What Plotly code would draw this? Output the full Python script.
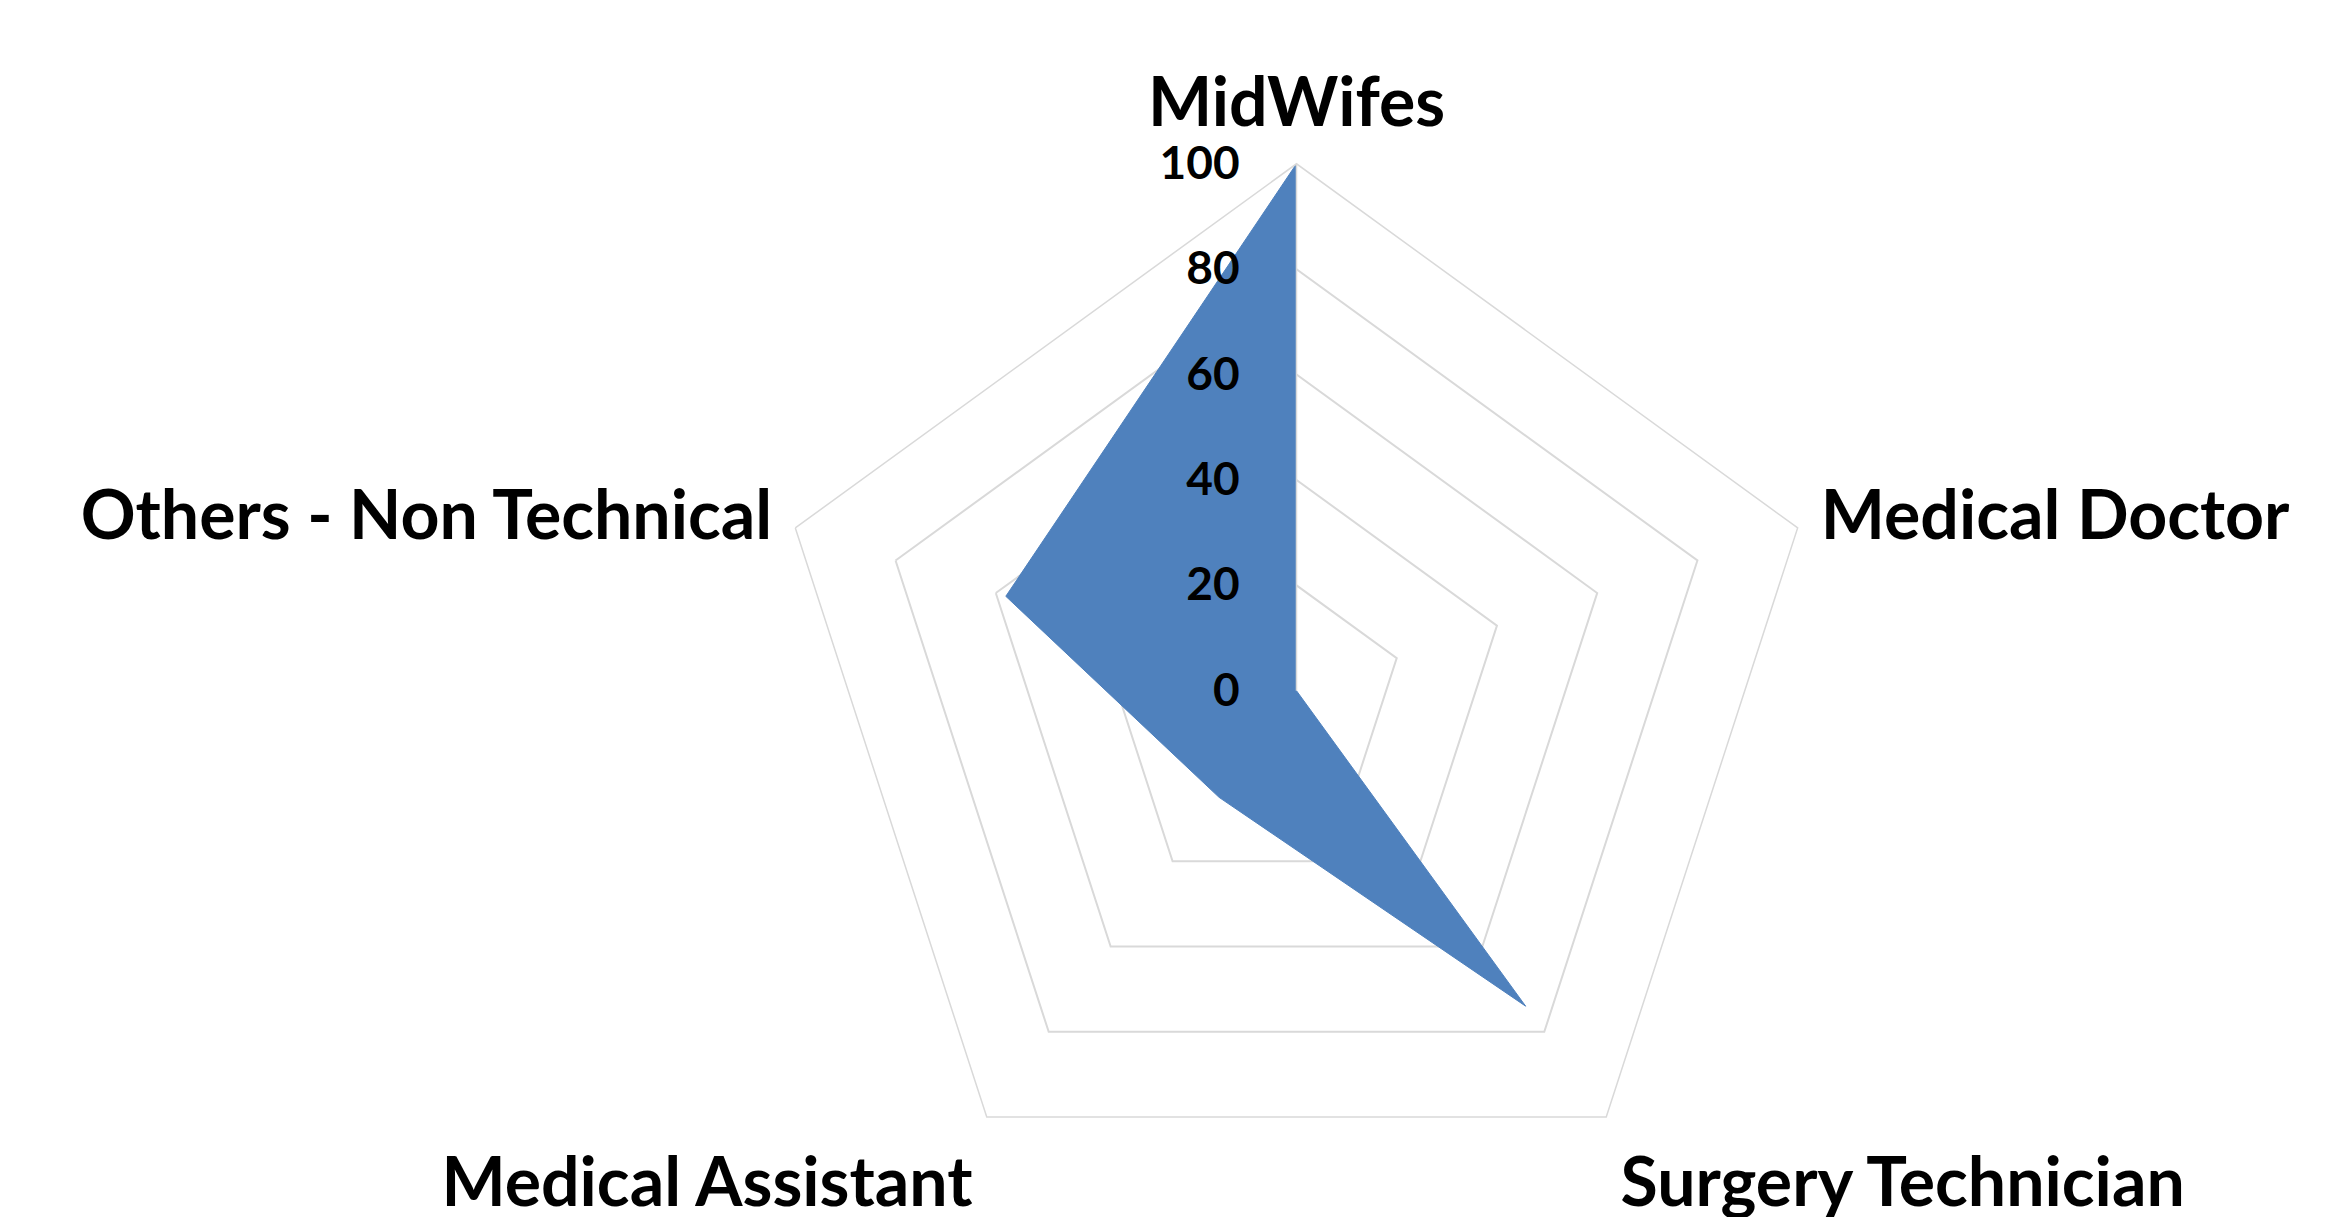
import plotly.graph_objects as go

categories = ["MidWifes", "Medical Doctor", "Surgery Technician", "Medical Assistant", "Others - Non Technical"]
values = [100, 0, 74, 25, 58]
tick_vals = [0, 20, 40, 60, 80, 100]
tick_text = ["0", "20", "40", "60", "80", "100"]

grid_color = "#d9d9d9"
fill_color = "#4f81bd"

fig = go.Figure()
fig.add_trace(go.Scatterpolar(
    r=values + values[:1],
    theta=categories + categories[:1],
    mode="lines",
    fill="toself",
    fillcolor=fill_color,
    line=dict(color=fill_color, width=1),
    showlegend=False,
))

fig.update_layout(
    width=2330,
    height=1217,
    margin=dict(l=0, r=0, t=0, b=0),
    paper_bgcolor="white",
    plot_bgcolor="white",
    font=dict(family="Lato", color="black"),
    polar=dict(
        domain=dict(x=[0.106, 1.0], y=[0.006, 0.872]),
        bgcolor="white",
        gridshape="linear",
        radialaxis=dict(
            range=[0, 100],
            tickvals=tick_vals,
            ticktext=tick_text,
            angle=90,
            side="counterclockwise",
            tickangle=90,
            showline=True,
            linecolor=grid_color,
            linewidth=1.5,
            gridcolor=grid_color,
            gridwidth=1.5,
            ticks="outside",
            ticklen=40,
            tickcolor="rgba(0,0,0,0)",
            tickfont=dict(family="Lato", size=46, weight="bold", color="black"),
        ),
        angularaxis=dict(
            rotation=90,
            direction="clockwise",
            showgrid=False,
            showline=True,
            linecolor=grid_color,
            linewidth=1.5,
            ticks="outside",
            ticklen=10,
            tickcolor="rgba(0,0,0,0)",
            tickfont=dict(family="Lato", size=68, weight="bold", color="black"),
        ),
    ),
)

fig.write_html("out.html")
